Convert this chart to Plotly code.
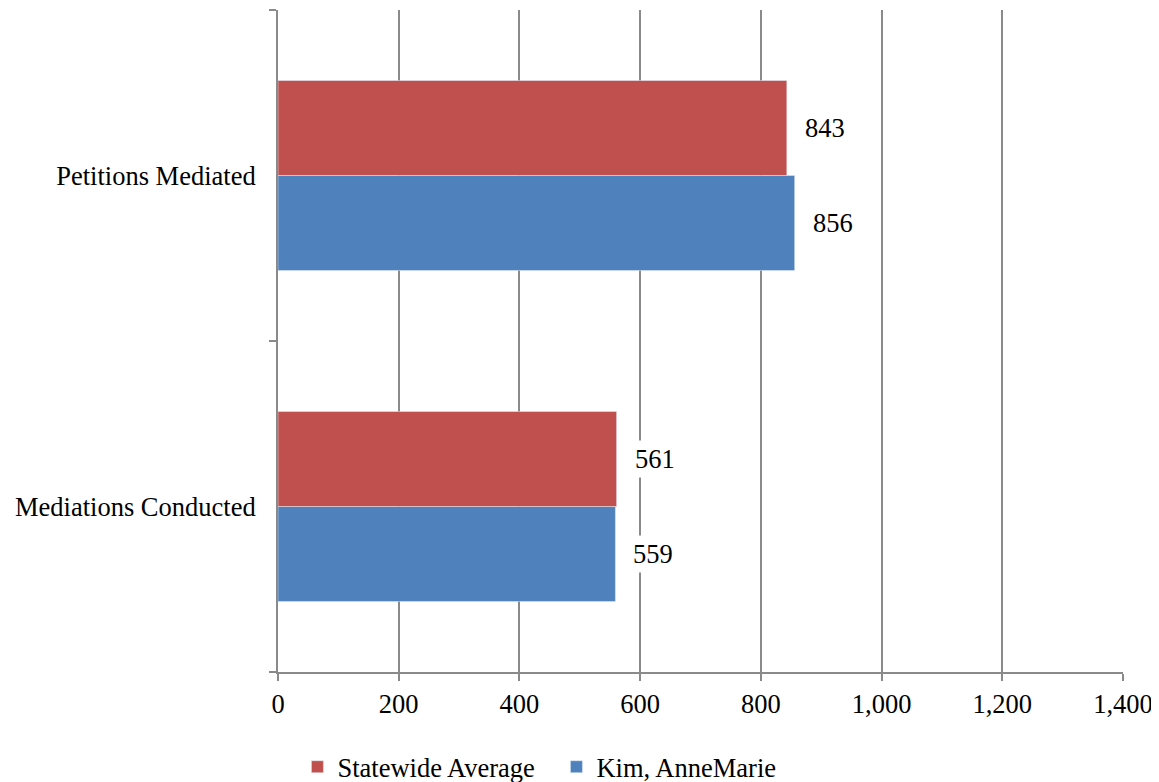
import plotly.graph_objects as go

# categories, top to bottom as displayed
categories = ["Petitions Mediated", "Mediations Conducted"]
statewide = [843, 561]
kim = [856, 559]
x_ticks = [0, 200, 400, 600, 800, 1000, 1200, 1400]

red = "#C0504D"
blue = "#4F81BD"
grid = "#8A8A8A"
font = "Liberation Serif, Times New Roman, serif"

fig = go.Figure()
# in grouped horizontal bars the first trace sits lowest, so blue goes first
fig.add_trace(go.Bar(y=categories, x=kim, orientation="h", name="Kim, AnneMarie",
                     marker_color=blue, legendrank=2))
fig.add_trace(go.Bar(y=categories, x=statewide, orientation="h", name="Statewide Average",
                     marker_color=red, legendrank=1))

# value labels with a white box (covers the gridlines like the original)
for vals, shift in [(statewide, 47.5), (kim, -47.5)]:
    for c, v in zip(categories, vals):
        fig.add_annotation(x=v, y=c, text=str(v), showarrow=False, xanchor="left",
                           xshift=14, yshift=shift, bgcolor="white", borderpad=3,
                           font=dict(size=26.5, color="black", family=font))

# page body has an 8px margin, so the figure is 8px smaller and margins shifted
fig.update_layout(
    width=1151, height=774,
    margin=dict(l=270, r=36, t=2, b=110, autoexpand=False),
    plot_bgcolor="white", paper_bgcolor="white",
    barmode="group", bargap=0.426, bargroupgap=0,
    font=dict(family=font, size=26.5, color="black"),
    separators=".,",
    showlegend=True,
    legend=dict(orientation="h", x=0.023, xanchor="left", y=-0.1435, yanchor="middle",
                font=dict(size=26.5), traceorder="normal", itemwidth=30,
                entrywidth=214),
)
fig.update_xaxes(range=[0, 1400], tickvals=x_ticks, tickformat=",d",
                 showgrid=True, gridcolor=grid, gridwidth=2,
                 showline=True, linecolor=grid, linewidth=2,
                 ticks="outside", ticklen=7, tickcolor=grid, tickwidth=2,
                 zeroline=False, fixedrange=True, automargin=False)
fig.update_yaxes(categoryorder="array", categoryarray=categories[::-1],
                 tickson="boundaries", ticks="outside", ticklen=7, tickcolor=grid,
                 tickwidth=2, showline=True, linecolor=grid, linewidth=2,
                 ticklabelstandoff=15,
                 showgrid=False, zeroline=False, fixedrange=True, automargin=False)

fig.write_html("out.html")
